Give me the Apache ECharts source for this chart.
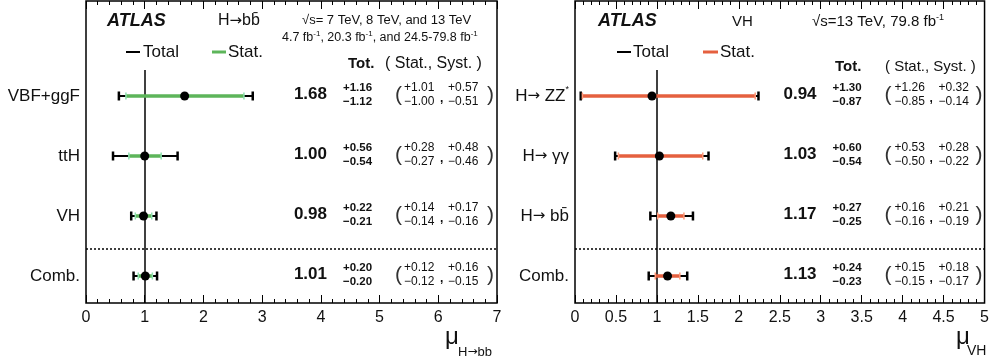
<!DOCTYPE html>
<html><head><meta charset="utf-8">
<script src="https://cdn.jsdelivr.net/npm/echarts@6/dist/echarts.min.js"></script>
<style>html,body{margin:0;padding:0;background:#fff}#c{width:992px;height:359px}</style>
</head><body><div id="c"></div>
<script>
// ---- data: left panel (H -> bb) ----
const leftCats = ['VBF+ggF', 'ttH', 'VH', 'Comb.'];
const leftMu = [1.68, 1.00, 0.98, 1.01];
const leftTotUp = [1.16, 0.56, 0.22, 0.20];
const leftTotDn = [1.12, 0.54, 0.21, 0.20];
const leftStatUp = [1.01, 0.28, 0.14, 0.12];
const leftStatDn = [1.00, 0.27, 0.14, 0.12];
const leftSystUp = [0.57, 0.48, 0.17, 0.16];
const leftSystDn = [0.51, 0.46, 0.16, 0.15];
const leftTicks = [0, 1, 2, 3, 4, 5, 6, 7];

// ---- data: right panel (VH) ----
const rightCats = ['H\u2192 ZZ*', 'H\u2192 \u03b3\u03b3', 'H\u2192 bb\u0304', 'Comb.'];
const rightMu = [0.94, 1.03, 1.17, 1.13];
const rightTotUp = [1.30, 0.60, 0.27, 0.24];
const rightTotDn = [0.87, 0.54, 0.25, 0.23];
const rightStatUp = [1.26, 0.53, 0.16, 0.15];
const rightStatDn = [0.85, 0.50, 0.16, 0.15];
const rightSystUp = [0.32, 0.28, 0.21, 0.18];
const rightSystDn = [0.14, 0.22, 0.19, 0.17];
const rightTicks = [0, 0.5, 1, 1.5, 2, 2.5, 3, 3.5, 4, 4.5, 5];

const smRef = 1;

// ---- layout ----
const FF = '"Liberation Sans", Arial, Helvetica, sans-serif';
const FA = '"DejaVu Sans", sans-serif';
const Y_MIN = -1.583, Y_MAX = 3.45, SEP_Y = 2.55, VLINE_TOP = -0.433;
const GREEN = '#5db55a', GREEN_CAP = '#8fe0b0';
const RED = '#e5603f', RED_CAP = '#ff9a7a';

function fmt(v) { return v.toFixed(2); }

function barData(mu, tu, td, su, sd) {
  return mu.map((m, i) => [i, m, m - td[i], m + tu[i], m - sd[i], m + su[i]]);
}
function tableData(mu, tu, td, su, sd, yu, yd) {
  return mu.map((m, i) => [i, m, tu[i], td[i], su[i], sd[i], yu[i], yd[i]]);
}

function errRender(statColor, capColor) {
  return function (params, api) {
    const row = api.value(0);
    const p = api.coord([api.value(1), row]);
    const tl = api.coord([api.value(2), row]);
    const th = api.coord([api.value(3), row]);
    const sl = api.coord([api.value(4), row]);
    const sh = api.coord([api.value(5), row]);
    const y = p[1];
    const ch = [];
    ch.push({ type: 'line', shape: { x1: tl[0], y1: y, x2: th[0], y2: y }, style: { stroke: '#000', lineWidth: 2 } });
    ch.push({ type: 'line', shape: { x1: tl[0], y1: y - 4.5, x2: tl[0], y2: y + 4.5 }, style: { stroke: '#000', lineWidth: 2.5 } });
    ch.push({ type: 'line', shape: { x1: th[0], y1: y - 4.5, x2: th[0], y2: y + 4.5 }, style: { stroke: '#000', lineWidth: 2.5 } });
    ch.push({ type: 'line', shape: { x1: sl[0], y1: y, x2: sh[0], y2: y }, style: { stroke: statColor, lineWidth: 3.5 } });
    ch.push({ type: 'line', shape: { x1: sl[0], y1: y - 3.5, x2: sl[0], y2: y + 3.5 }, style: { stroke: capColor, lineWidth: 1.5 } });
    ch.push({ type: 'line', shape: { x1: sh[0], y1: y - 3.5, x2: sh[0], y2: y + 3.5 }, style: { stroke: capColor, lineWidth: 1.5 } });
    ch.push({ type: 'circle', shape: { cx: p[0], cy: y, r: 4.5 }, style: { fill: '#000' } });
    return { type: 'group', children: ch };
  };
}

function txt(x, y, text, size, opts) {
  return { type: 'text', x: x, y: y, style: Object.assign({ text: text, fontSize: size, fontFamily: FF, fill: '#111', textVerticalAlign: 'middle', textAlign: 'left' }, opts || {}) };
}

function catLabel(x, y, cat) {
  const rich = {
    a: { fontSize: 17, fontFamily: FF, fill: '#111' },
    r: { fontSize: 15, fontFamily: FA, fill: '#111' },
    s: { fontSize: 9, fontFamily: FF, fill: '#111', verticalAlign: 'top', padding: [0, 0, 12, 0] }
  };
  let t = cat;
  if (cat.indexOf('\u2192') >= 0) {
    const parts = cat.split('\u2192');
    let rest = parts[1];
    let star = '';
    if (rest.endsWith('*')) { rest = rest.slice(0, -1); star = '{s|*}'; }
    t = '{a|' + parts[0] + '}{r|\u2192}{a|' + rest + '}' + star;
  } else {
    t = '{a|' + cat + '}';
  }
  return { type: 'text', x: x, y: y, style: { text: t, rich: rich, textAlign: 'right', textVerticalAlign: 'middle' } };
}

function tableRender(cats, offs) {
  return function (params, api) {
    const cs = params.coordSys;
    const right = cs.x + cs.width;
    const row = api.value(0);
    const y = api.coord([0, row])[1];
    const ch = [];
    const NS = 12;
    ch.push(catLabel(cs.x - 6, y, cats[row]));
    ch.push(txt(right + offs.mu, y - 2, fmt(api.value(1)), 17, { textAlign: 'right', fontWeight: 'bold' }));
    ch.push(txt(right + offs.tot, y - 8, '+' + fmt(api.value(2)), 11.5, { fontWeight: 'bold' }));
    ch.push(txt(right + offs.tot, y + 6, '\u2212' + fmt(api.value(3)), 11.5, { fontWeight: 'bold' }));
    ch.push(txt(right + offs.open, y - 1, '(', 21, { fill: '#333' }));
    ch.push(txt(right + offs.stat, y - 8, '+' + fmt(api.value(4)), NS));
    ch.push(txt(right + offs.stat, y + 6, '\u2212' + fmt(api.value(5)), NS));
    ch.push(txt(right + offs.comma, y + 3, ',', 12, { fontWeight: 'bold' }));
    ch.push(txt(right + offs.syst, y - 8, '+' + fmt(api.value(6)), NS));
    ch.push(txt(right + offs.syst, y + 6, '\u2212' + fmt(api.value(7)), NS));
    ch.push(txt(right + offs.close, y - 1, ')', 21, { fill: '#333' }));
    return { type: 'group', children: ch };
  };
}

const leftOffs = { mu: -170, tot: -154, open: -102, stat: -93, comma: -57, syst: -49, close: -10 };
const rightOffs = { mu: -168, tot: -152, open: -100, stat: -90, comma: -55, syst: -46, close: -9 };

function xAxes(grid, max, interval, ticks) {
  const base = {
    gridIndex: grid, type: 'value', min: 0, max: max, interval: interval,
    axisLine: { show: false, onZero: false },
    axisTick: { inside: true, length: 8, lineStyle: { color: '#000', width: 1 } },
    minorTick: { show: true, splitNumber: 5, length: 4, lineStyle: { color: '#000', width: 1 } },
    splitLine: { show: false }, minorSplitLine: { show: false }
  };
  return [
    Object.assign({}, base, { position: 'bottom', axisLabel: { fontSize: 16, color: '#111', fontFamily: FF, margin: 7, formatter: v => (ticks.indexOf(v) >= 0 ? String(v) : '') } }),
    Object.assign({}, base, { position: 'top', axisLabel: { show: false } })
  ];
}
function yAx(grid) {
  return { gridIndex: grid, type: 'value', min: Y_MIN, max: Y_MAX, inverse: true, show: false };
}

function refLines(xi, yi) {
  return {
    type: 'line', xAxisIndex: xi, yAxisIndex: yi, data: [], z: 1, silent: true,
    markLine: {
      symbol: 'none', silent: true, label: { show: false }, animation: false,
      data: [
        { yAxis: SEP_Y, lineStyle: { color: '#000', width: 1.5, type: [2, 2] } },
        [{ coord: [smRef, VLINE_TOP], lineStyle: { color: '#000', width: 1.5, type: 'solid' } }, { coord: [smRef, Y_MAX] }]
      ]
    }
  };
}

const chart = echarts.init(document.getElementById('c'), null, { renderer: 'canvas' });
chart.setOption({
  animation: false,
  backgroundColor: '#fff',
  grid: [
    { left: 86, right: 495, top: 1, bottom: 56, show: true, borderColor: '#000', borderWidth: 1.5 },
    { left: 575, right: 7, top: 1, bottom: 56, show: true, borderColor: '#000', borderWidth: 1.5 }
  ],
  xAxis: xAxes(0, 7, 1, leftTicks).concat(xAxes(1, 5, 0.5, rightTicks)),
  yAxis: [yAx(0), yAx(1)],
  series: [
    refLines(0, 0),
    refLines(2, 1),
    { type: 'custom', xAxisIndex: 0, yAxisIndex: 0, z: 5, renderItem: errRender(GREEN, GREEN_CAP), encode: { x: [1, 2, 3, 4, 5], y: 0 }, data: barData(leftMu, leftTotUp, leftTotDn, leftStatUp, leftStatDn) },
    { type: 'custom', xAxisIndex: 2, yAxisIndex: 1, z: 5, renderItem: errRender(RED, RED_CAP), encode: { x: [1, 2, 3, 4, 5], y: 0 }, data: barData(rightMu, rightTotUp, rightTotDn, rightStatUp, rightStatDn) },
    { type: 'custom', xAxisIndex: 0, yAxisIndex: 0, z: 6, clip: false, renderItem: tableRender(leftCats, leftOffs), encode: { y: 0 }, data: tableData(leftMu, leftTotUp, leftTotDn, leftStatUp, leftStatDn, leftSystUp, leftSystDn) },
    { type: 'custom', xAxisIndex: 2, yAxisIndex: 1, z: 6, clip: false, renderItem: tableRender(rightCats, rightOffs), encode: { y: 0 }, data: tableData(rightMu, rightTotUp, rightTotDn, rightStatUp, rightStatDn, rightSystUp, rightSystDn) }
  ],
  graphic: [
    // left header
    txt(107, 21, 'ATLAS', 18, { fontWeight: 'bold', fontStyle: 'italic' }),
    { type: 'text', x: 218, y: 21, style: { text: '{a|H}{r|\u2192}{a|bb\u0304}', textVerticalAlign: 'middle', rich: { a: { fontSize: 16, fontFamily: FF, fill: '#111' }, r: { fontSize: 15, fontFamily: FA, fill: '#111' } } } },
    txt(302, 20, '\u221As= 7 TeV, 8 TeV, and 13 TeV', 13),
    { type: 'text', x: 282, y: 38, style: { text: '4.7 fb{s|-1}, 20.3 fb{s|-1}, and 24.5-79.8 fb{s|-1}', fontSize: 12.5, fontFamily: FF, fill: '#111', textVerticalAlign: 'middle', rich: { s: { fontSize: 8, fontFamily: FF, fill: '#111', verticalAlign: 'top', padding: [0, 0, 8, 0] } } } },
    { type: 'line', shape: { x1: 126, y1: 52, x2: 140, y2: 52 }, style: { stroke: '#000', lineWidth: 2 } },
    txt(143, 52, 'Total', 17),
    { type: 'line', shape: { x1: 212, y1: 52, x2: 226, y2: 52 }, style: { stroke: GREEN, lineWidth: 3 } },
    txt(228, 52, 'Stat.', 17),
    txt(348, 64, 'Tot.', 15, { fontWeight: 'bold' }),
    txt(385, 64, '( Stat., Syst. )', 16),
    // right header
    txt(598, 21, 'ATLAS', 18, { fontWeight: 'bold', fontStyle: 'italic' }),
    txt(732, 22, 'VH', 15),
    { type: 'text', x: 812, y: 22, style: { text: '\u221As=13 TeV, 79.8 fb{s|-1}', fontSize: 15, fontFamily: FF, fill: '#111', textVerticalAlign: 'middle', rich: { s: { fontSize: 9, fontFamily: FF, fill: '#111', verticalAlign: 'top', padding: [0, 0, 9, 0] } } } },
    { type: 'line', shape: { x1: 617, y1: 52, x2: 631, y2: 52 }, style: { stroke: '#000', lineWidth: 2 } },
    txt(633, 52, 'Total', 17),
    { type: 'line', shape: { x1: 703, y1: 52, x2: 718, y2: 52 }, style: { stroke: RED, lineWidth: 3 } },
    txt(720, 52, 'Stat.', 17),
    txt(835, 67, 'Tot.', 15, { fontWeight: 'bold' }),
    txt(885, 67, '( Stat., Syst. )', 15),
    // axis titles
    txt(445, 337, '\u03bc', 24),
    { type: 'text', x: 458, y: 352, style: { text: '{a|H}{r|\u2192}{a|bb}', textVerticalAlign: 'middle', rich: { a: { fontSize: 13, fontFamily: FF, fill: '#111' }, r: { fontSize: 12, fontFamily: FA, fill: '#111' } } } },
    txt(956, 337, '\u03bc', 24),
    txt(967, 351, 'VH', 14)
  ]
});
</script></body></html>
